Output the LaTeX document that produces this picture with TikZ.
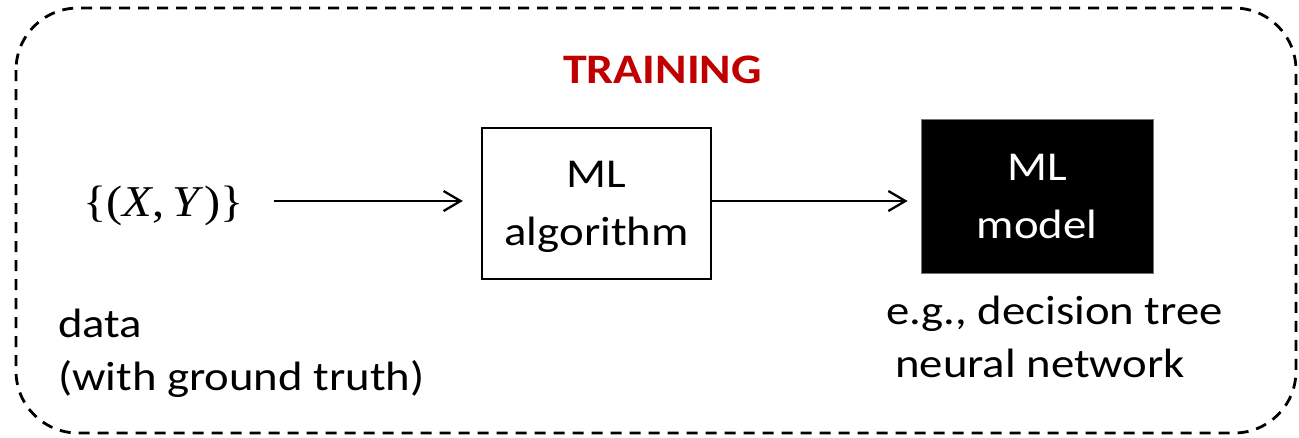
\documentclass[tikz,border=0pt]{standalone}
\usepackage{graphicx}
\usepackage{fontspec}
\setmainfont{Carlito}[FakeStretch=1.14]
\newfontfamily\formulafont{Liberation Serif}
\usetikzlibrary{arrows.meta}
\definecolor{trainred}{RGB}{192,0,0}
\newcommand\boxfont{\fontsize{41}{58}\selectfont}
\newcommand\notefont{\fontsize{41}{53}\selectfont}
\newcommand\headfont{\fontsize{42}{50}\selectfont\bfseries}
\begin{document}
\begin{tikzpicture}[x=1pt,y=-1pt,
  frame/.style={draw, dash pattern=on 11pt off 8pt, line width=2.8pt, rounded corners=62pt},
  arr/.style={line width=2.3pt, -{Straight Barb[length=17pt,width=20pt]}},
  algbox/.style={draw, line width=2.3pt, minimum width=229pt, minimum height=151pt,
    inner sep=0pt, align=center, font=\boxfont},
  modelbox/.style={fill=black, draw=black!55, line width=0.8pt, text=white,
    minimum width=232pt, minimum height=154pt, inner sep=0pt, align=center, font=\boxfont},
  note/.style={inner sep=0pt, align=left, font=\notefont}]
\useasboundingbox (0,0) rectangle (1299,437);

% dashed training frame
\draw[frame] (16,8) rectangle (1296,433);

% title
\node[inner sep=0pt, anchor=base, font=\headfont, text=trainred] (title) at (662.5,83) {TRAINING};

% data, algorithm and model
\node[inner sep=0pt, anchor=base west, font=\formulafont\fontsize{44}{50}\selectfont] (xy) at (83,216)
  {\scalebox{1.1}[1]{\{(\textit{X},\kern0.18em\textit{Y})\}}};
\node[algbox] (alg) at (596.5,203.5) {ML\\al\smash{g}orithm};
\node[modelbox] (model) at (1037,196) {ML\\model};

% flow arrows
\draw[arr, shorten <=30pt, shorten >=18pt] ([yshift=2.5pt]alg.west -| xy.east) -- ([yshift=2.5pt]alg.west);
\draw[arr, shorten >=13pt] ([yshift=2.5pt]alg.east) -- ([yshift=2.5pt]alg.east -| model.west);

% captions
\node[note, anchor=west] (data) at (58,353) {data\\(with ground truth)};
\node[note, anchor=west] (examples) at (886,337) {e.g., decision tree\\\hspace*{0.22em}neural network};
\end{tikzpicture}
\end{document}
